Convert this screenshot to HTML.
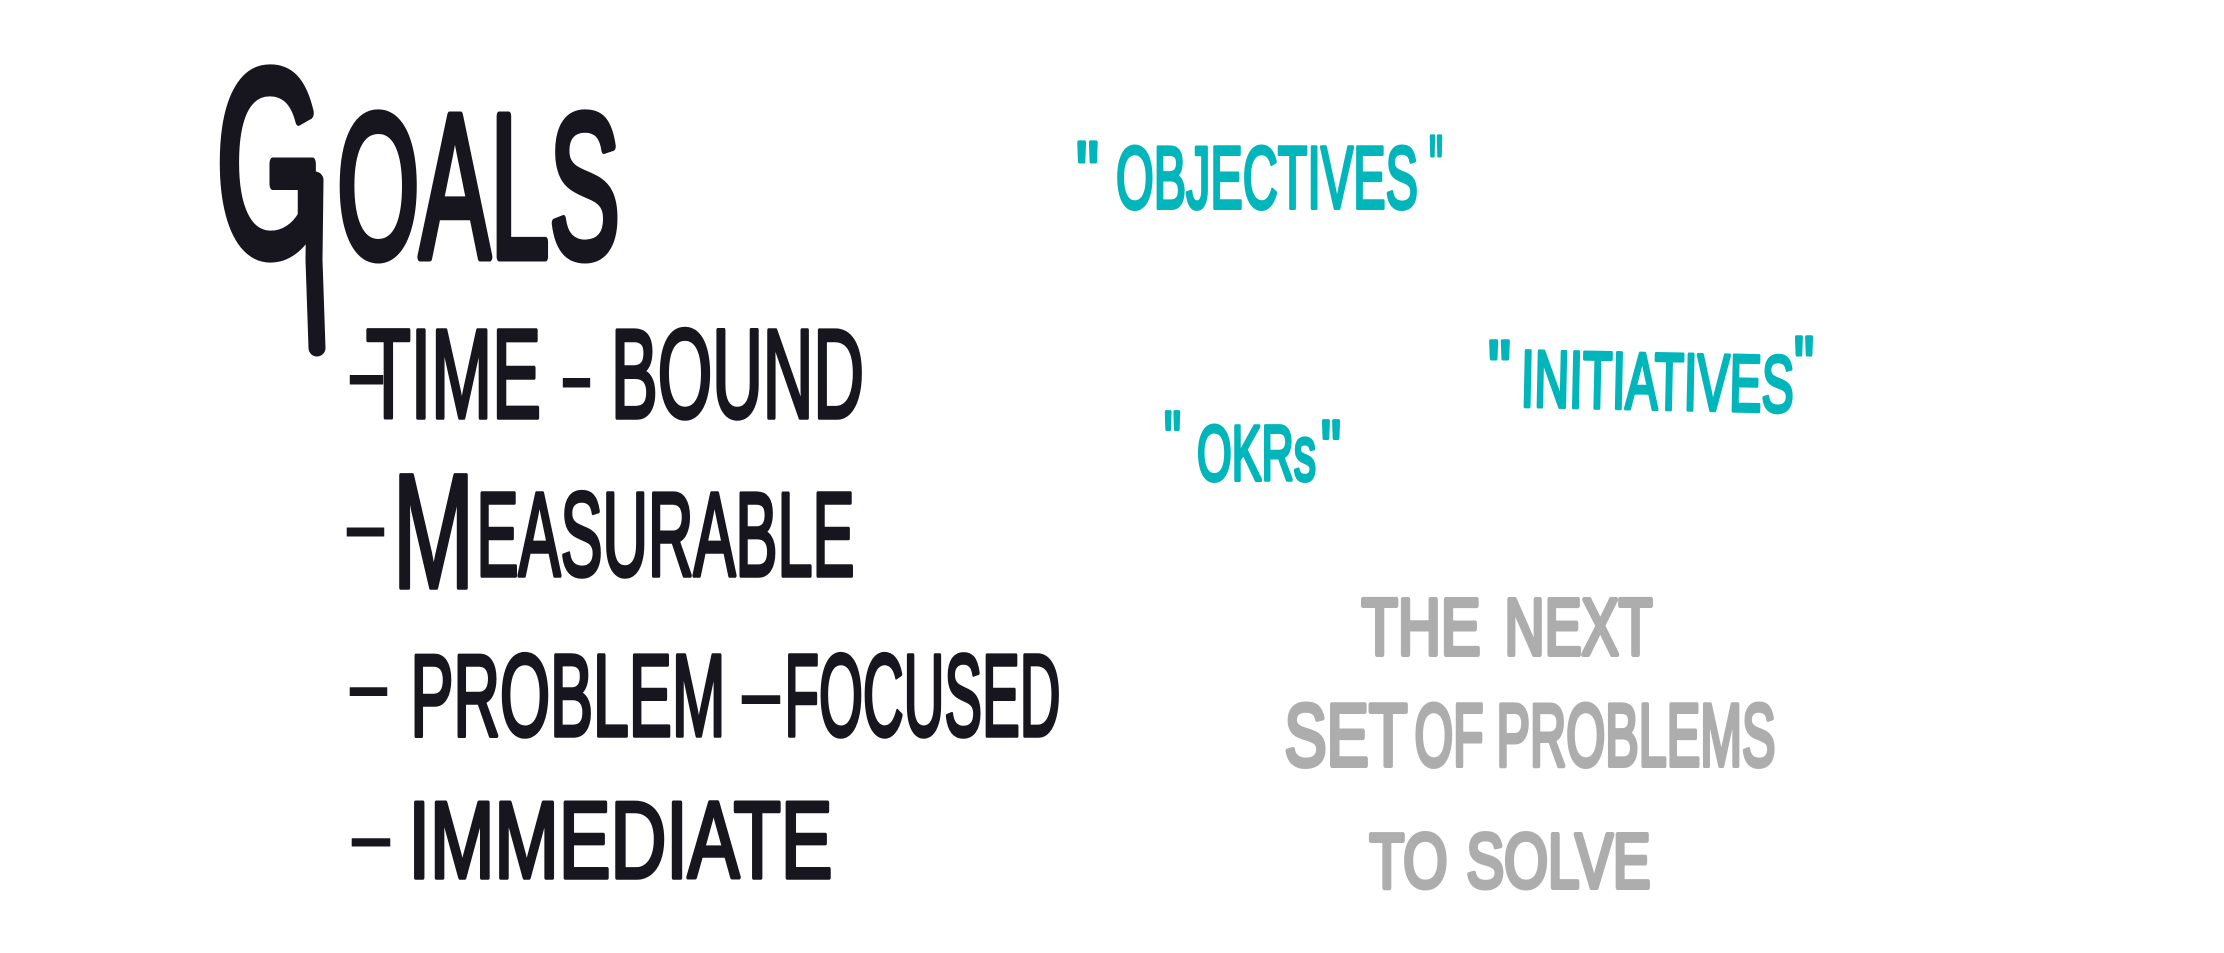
<!DOCTYPE html>
<html>
<head>
<meta charset="utf-8">
<style>
  html, body { margin:0; padding:0; background:#ffffff; }
  body { width:2224px; height:953px; overflow:hidden; }
  svg { display:block; }
  text { font-family: "Liberation Sans", "DejaVu Sans", sans-serif; font-weight: normal; stroke-linejoin: round; stroke-linecap: round; }
  .k { fill:#17161f; stroke:#17161f; }
  .d { fill:#17161f; stroke:#17161f; stroke-width:1; }
  .t { fill:#00b6ba; stroke:#00b6ba; stroke-width:4; }
  .g { fill:#adadad; stroke:#adadad; stroke-width:5; }
</style>
</head>
<body>
<svg width="2224" height="953" viewBox="0 0 2224 953" xmlns="http://www.w3.org/2000/svg">
  <rect x="0" y="0" width="2224" height="953" fill="#ffffff"/>

  <!-- GOALS -->
  <text class="k" x="216" y="254" font-size="263" stroke-width="12" textLength="107" lengthAdjust="spacingAndGlyphs">G</text>
  <path d="M315 180 L314 260 L317 348" fill="none" stroke="#17161f" stroke-width="17" stroke-linecap="round" stroke-linejoin="round"/>
  <text class="k" x="337" y="257" font-size="205" stroke-width="9" textLength="283" lengthAdjust="spacingAndGlyphs">OALS</text>

  <!-- - TIME - BOUND -->
  <text class="d" x="350" y="412" font-size="126" textLength="33" lengthAdjust="spacingAndGlyphs">–</text>
  <text class="k" x="366" y="417.5" font-size="126" stroke-width="4.5" textLength="175" lengthAdjust="spacingAndGlyphs">TIME</text>
  <text class="d" x="563" y="415" font-size="126" textLength="27" lengthAdjust="spacingAndGlyphs">–</text>
  <text class="k" x="611" y="417.5" font-size="126" stroke-width="4.5" textLength="253" lengthAdjust="spacingAndGlyphs">BOUND</text>

  <!-- - MEASURABLE -->
  <text class="d" x="347" y="562" font-size="119" textLength="37" lengthAdjust="spacingAndGlyphs">–</text>
  <text class="k" x="392.5" y="587.5" font-size="163" stroke-width="4.5" textLength="82" lengthAdjust="spacingAndGlyphs">M</text>
  <text class="k" x="476.5" y="575.5" font-size="119" stroke-width="4.5" textLength="378" lengthAdjust="spacingAndGlyphs">EASURABLE</text>

  <!-- - PROBLEM - FOCUSED -->
  <text class="d" x="350" y="721" font-size="116" textLength="37" lengthAdjust="spacingAndGlyphs">–</text>
  <text class="k" x="410.5" y="735.5" font-size="116" stroke-width="4.5" textLength="315" lengthAdjust="spacingAndGlyphs">PROBLEM</text>
  <text class="d" x="742" y="729" font-size="116" textLength="38" lengthAdjust="spacingAndGlyphs">–</text>
  <text class="k" x="784.5" y="735.5" font-size="116" stroke-width="4.5" textLength="276" lengthAdjust="spacingAndGlyphs">FOCUSED</text>

  <!-- - IMMEDIATE -->
  <text class="d" x="352" y="870" font-size="109" textLength="38" lengthAdjust="spacingAndGlyphs">–</text>
  <text class="k" x="408.5" y="877.5" font-size="109" stroke-width="4.5" textLength="424" lengthAdjust="spacingAndGlyphs">IMMEDIATE</text>

  <!-- "OBJECTIVES" -->
  <text class="t" x="1076" y="203" font-size="88" textLength="23" lengthAdjust="spacingAndGlyphs">"</text>
  <text class="t" x="1116" y="208" font-size="88" textLength="302" lengthAdjust="spacingAndGlyphs">OBJECTIVES</text>
  <text class="t" x="1429" y="197" font-size="88" textLength="14" lengthAdjust="spacingAndGlyphs">"</text>

  <!-- "INITIATIVES" -->
  <text class="t" x="1488" y="396" font-size="80" textLength="23" lengthAdjust="spacingAndGlyphs">"</text>
  <text class="t" x="1521" y="409" font-size="80" textLength="273" lengthAdjust="spacingAndGlyphs" transform="rotate(1.2 1657 380)">INITIATIVES</text>
  <text class="t" x="1794" y="392" font-size="80" textLength="20" lengthAdjust="spacingAndGlyphs">"</text>

  <!-- "OKRs" -->
  <text class="t" x="1164" y="466" font-size="78" textLength="17" lengthAdjust="spacingAndGlyphs">"</text>
  <text class="t" x="1197" y="480" font-size="78" textLength="119" lengthAdjust="spacingAndGlyphs">OKRs</text>
  <text class="t" x="1321" y="475" font-size="78" textLength="20" lengthAdjust="spacingAndGlyphs">"</text>

  <!-- THE NEXT / SET OF PROBLEMS / TO SOLVE -->
  <text class="g" x="1361.5" y="654.5" font-size="80" textLength="119" lengthAdjust="spacingAndGlyphs">THE</text>
  <text class="g" x="1504.5" y="654.5" font-size="80" textLength="148" lengthAdjust="spacingAndGlyphs">NEXT</text>

  <text class="g" x="1284.5" y="765.5" font-size="88" textLength="123" lengthAdjust="spacingAndGlyphs">SET</text>
  <text class="g" x="1414.5" y="765.5" font-size="88" textLength="69" lengthAdjust="spacingAndGlyphs">OF</text>
  <text class="g" x="1496.5" y="765.5" font-size="88" textLength="279" lengthAdjust="spacingAndGlyphs">PROBLEMS</text>

  <text class="g" x="1369.5" y="887.5" font-size="77" textLength="78" lengthAdjust="spacingAndGlyphs">TO</text>
  <text class="g" x="1466.5" y="887.5" font-size="77" textLength="184" lengthAdjust="spacingAndGlyphs">SOLVE</text>
</svg>
</body>
</html>
